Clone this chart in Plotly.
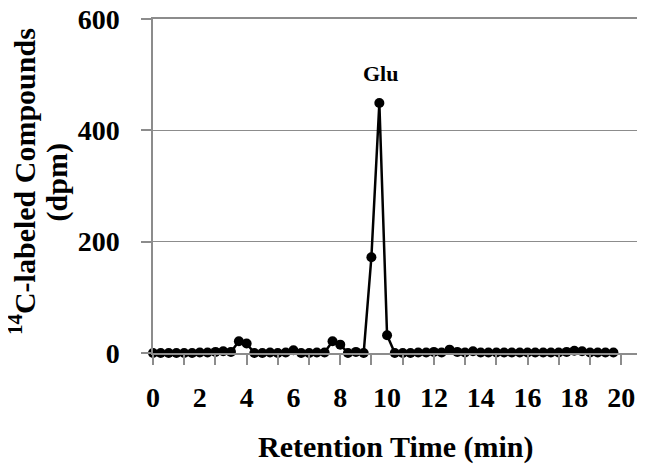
import plotly.graph_objects as go

# Temps de rétention (min) et activité mesurée (dpm)
temps = [0, 0.33, 0.67, 1, 1.33, 1.67, 2, 2.33, 2.67, 3,
         3.33, 3.67, 4, 4.33, 4.67, 5, 5.33, 5.67, 6, 6.33,
         6.67, 7, 7.33, 7.67, 8, 8.33, 8.67, 9, 9.33, 9.67,
         10, 10.33, 10.67, 11, 11.33, 11.67, 12, 12.33, 12.67, 13,
         13.33, 13.67, 14, 14.33, 14.67, 15, 15.33, 15.67, 16, 16.33,
         16.67, 17, 17.33, 17.67, 18, 18.33, 18.67, 19, 19.33, 19.67]
dpm = [0, 0, 0, 0, 0, 0, 1, 1, 2, 3,
       2, 21, 17, 0, 0, 1, 0, 1, 5, 0,
       0, 1, 1, 21, 15, 0, 2, 0, 172, 449,
       32, 0, 0, 0, 1, 1, 2, 1, 6, 2,
       1, 3, 1, 1, 1, 1, 1, 1, 1, 1,
       1, 1, 1, 2, 4, 3, 1, 1, 1, 1]

x_labels = [0, 2, 4, 6, 8, 10, 12, 14, 16, 18, 20]
y_labels = [0, 200, 400, 600]

police = "Liberation Serif"
gris = "#8c8c8c"

fig = go.Figure()
fig.add_trace(go.Scatter(
    x=temps, y=dpm, mode="lines+markers",
    line=dict(color="black", width=2.5),
    marker=dict(color="black", size=10),
    cliponaxis=False,
))

fig.add_annotation(x=9.7, y=503, text="<b>Glu</b>", showarrow=False,
                   font=dict(family=police, size=22, color="black"))

# titres des axes (la page ajoute 8 px de marge autour de la figure)
fig.add_annotation(
    xref="paper", yref="paper", x=-0.27, y=0.512,
    xanchor="center", yanchor="middle",
    text="<b><sup>14</sup>C-labeled Compounds</b>",
    textangle=-90, showarrow=False,
    font=dict(family=police, size=30, color="black"),
)
fig.add_annotation(
    xref="paper", yref="paper", x=-0.197, y=0.512,
    xanchor="center", yanchor="middle",
    text="<b>(dpm)</b>",
    textangle=-90, showarrow=False,
    font=dict(family=police, size=30, color="black"),
)
fig.add_annotation(
    xref="paper", yref="paper", x=0.5, y=-0.28,
    xanchor="center", yanchor="middle",
    text="<b>Retention Time (min)</b>", showarrow=False,
    font=dict(family=police, size=30, color="black"),
)

fig.update_layout(
    width=645, height=465,
    margin=dict(l=145, r=15, t=11, b=120),
    plot_bgcolor="white", paper_bgcolor="white",
    showlegend=False,
    font=dict(family=police, size=28, color="black"),
    xaxis=dict(
        range=[0, 20.72], automargin=False,
        tickvals=x_labels, ticktext=[f"<b>{v}</b>" for v in x_labels],
        ticks="outside", ticklen=10, tickcolor="rgba(0,0,0,0)",
        ticklabelstandoff=9, ticklabeloverflow="allow",
        minor=dict(tick0=0, dtick=4 / 3, ticks="outside", ticklen=10,
                   tickcolor=gris, tickwidth=1.5, showgrid=False),
        showline=True, linecolor=gris, linewidth=1.5, mirror=True,
        showgrid=False, zeroline=False,
    ),
    yaxis=dict(
        range=[0, 600], automargin=False,
        tickvals=y_labels, ticktext=[f"<b>{v}</b>" for v in y_labels],
        ticks="outside", ticklen=10, tickcolor=gris, tickwidth=1.5,
        ticklabelstandoff=16, ticklabeloverflow="allow",
        showline=True, linecolor=gris, linewidth=1.5, mirror=True,
        showgrid=True, gridcolor=gris, gridwidth=1.2,
        zeroline=False,
    ),
)

fig.write_html("out.html")
